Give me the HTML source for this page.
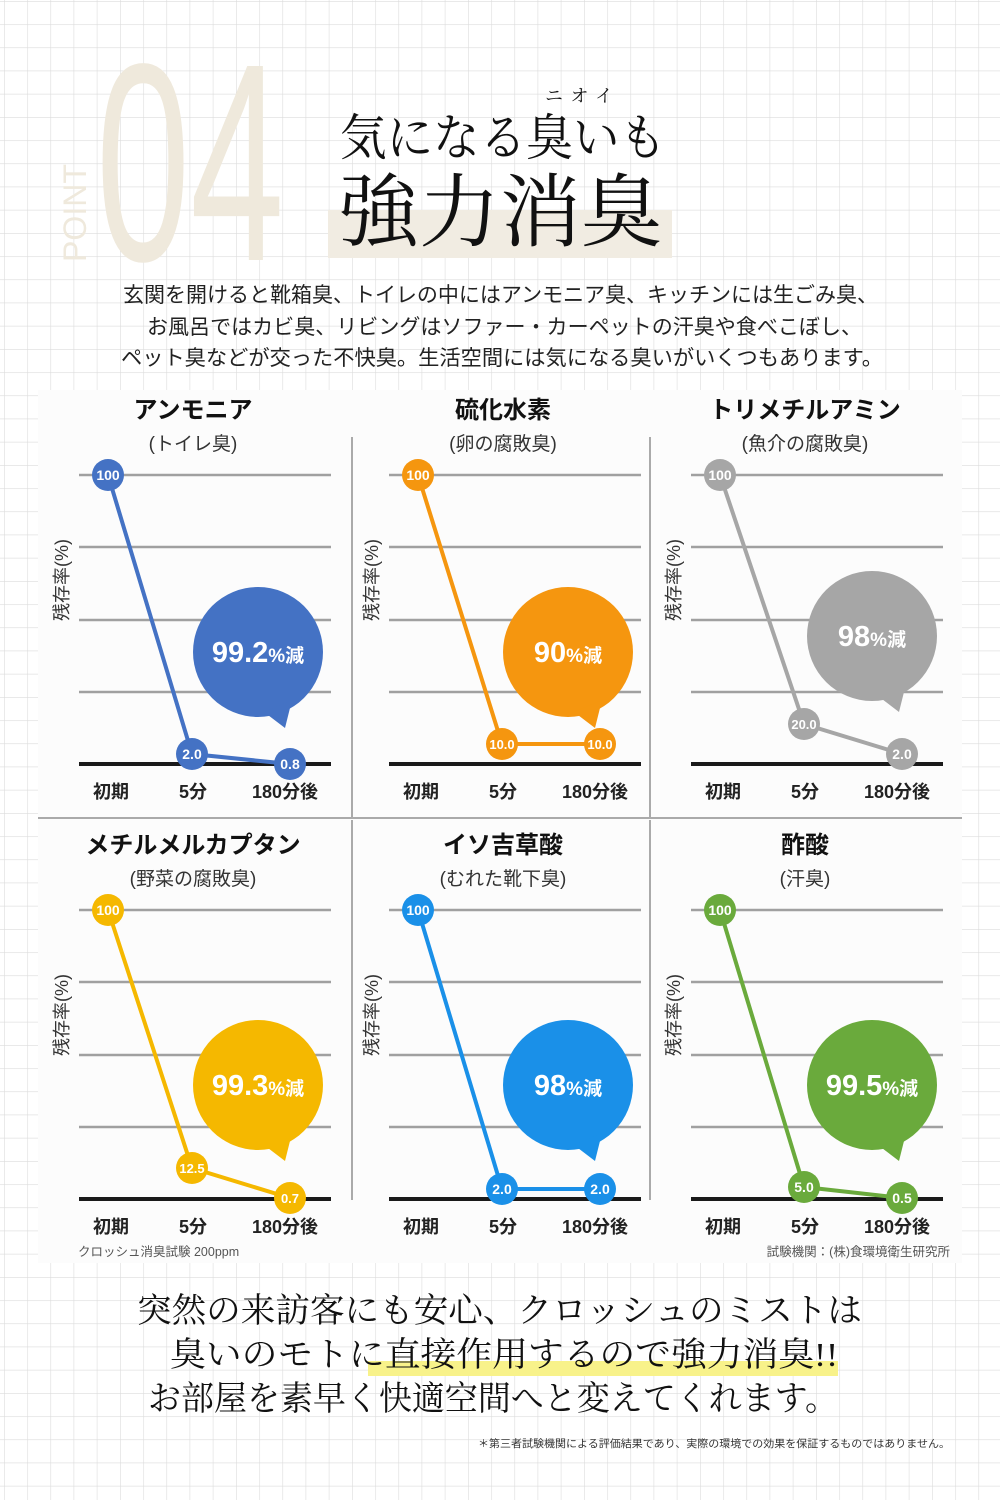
<!DOCTYPE html>
<html><head><meta charset="utf-8"><style>
html,body{margin:0;padding:0;background:#fff}
svg{display:block}
.t{font-family:"Liberation Sans","Noto Sans CJK JP",sans-serif}
.s{font-family:"Liberation Serif","Noto Serif CJK SC",serif}
</style></head><body>
<svg width="1000" height="1500" viewBox="0 0 1000 1500" xmlns="http://www.w3.org/2000/svg" class="t">
<defs>
<pattern id="g" x="4" y="1" width="23.2" height="23.2" patternUnits="userSpaceOnUse">
<path d="M0 0V23.2M0 0H23.2" stroke="#dcdcdc" stroke-width="1.2" fill="none"/>
</pattern>
</defs>
<rect width="1000" height="1500" fill="#fff"/>
<rect width="1000" height="1500" fill="url(#g)"/>

<!-- header -->
<text x="0" y="0" transform="translate(86,262) rotate(-90)" font-size="32" fill="#efe9dc" textLength="98" lengthAdjust="spacingAndGlyphs">POINT</text>
<text x="0" y="0" transform="translate(96,260) scale(0.6,1)" font-size="282" fill="#efe9dc">04</text>
<rect x="328" y="210" width="344" height="48" fill="#f1ece2"/>
<text class="s" x="545" y="102" font-size="18" fill="#111" textLength="68">ニオイ</text>
<text class="s" x="340" y="155" font-size="50" fill="#111" textLength="326" lengthAdjust="spacingAndGlyphs">気になる臭いも</text>
<text class="s" x="338" y="240" font-size="80" fill="#111" textLength="324" lengthAdjust="spacingAndGlyphs">強力消臭</text>
<g font-size="21" fill="#222">
<text x="123" y="302" textLength="755" lengthAdjust="spacingAndGlyphs">玄関を開けると靴箱臭、トイレの中にはアンモニア臭、キッチンには生ごみ臭、</text>
<text x="147" y="334" textLength="715" lengthAdjust="spacingAndGlyphs">お風呂ではカビ臭、リビングはソファー・カーペットの汗臭や食べこぼし、</text>
<text x="121" y="365" textLength="762" lengthAdjust="spacingAndGlyphs">ペット臭などが交った不快臭。生活空間には気になる臭いがいくつもあります。</text>
</g>

<!-- panel -->
<rect x="38" y="390" width="924" height="873" fill="#fcfcfc"/>
<g stroke="#aaa" stroke-width="2">
<line x1="352" y1="437" x2="352" y2="817"/><line x1="650" y1="437" x2="650" y2="817"/>
<line x1="352" y1="820" x2="352" y2="1200"/><line x1="650" y1="820" x2="650" y2="1200"/>
<line x1="38" y1="818" x2="962" y2="818"/>
</g>

<!-- C1 -->
<g>
<g stroke="#a0a0a0" stroke-width="2.5"><line x1="79" y1="475" x2="331" y2="475"/><line x1="79" y1="547" x2="331" y2="547"/><line x1="79" y1="620" x2="331" y2="620"/><line x1="79" y1="692" x2="331" y2="692"/></g>
<line x1="79" y1="764" x2="331" y2="764" stroke="#1a1a1a" stroke-width="4"/>
<text x="193" y="418" font-size="24" font-weight="bold" text-anchor="middle" fill="#111">アンモニア</text>
<text x="193" y="450" font-size="19" text-anchor="middle" fill="#333">(トイレ臭)</text>
<text transform="translate(68,580) rotate(-90)" font-size="18" text-anchor="middle" fill="#333">残存率(%)</text>
<g font-size="18" font-weight="bold" text-anchor="middle" fill="#222"><text x="111" y="798">初期</text><text x="193" y="798">5分</text><text x="285" y="798">180分後</text></g>
<g fill="#4472c4">
<circle cx="258" cy="652" r="65"/><polygon points="264,712 292,700 285,728"/>
<polyline points="108,475 192,754 290,764" fill="none" stroke="#4472c4" stroke-width="4"/>
<circle cx="108" cy="475" r="16"/><circle cx="192" cy="754" r="16"/><circle cx="290" cy="764" r="16"/>
</g>
<g fill="#fff" font-weight="bold" text-anchor="middle"><text x="108" y="480" font-size="14">100</text><text x="192" y="759" font-size="14">2.0</text><text x="290" y="769" font-size="14">0.8</text>
<text x="258" y="662" font-size="29">99.2<tspan font-size="19">%減</tspan></text></g>
</g>

<!-- C2 -->
<g transform="translate(310,0)">
<g stroke="#a0a0a0" stroke-width="2.5"><line x1="79" y1="475" x2="331" y2="475"/><line x1="79" y1="547" x2="331" y2="547"/><line x1="79" y1="620" x2="331" y2="620"/><line x1="79" y1="692" x2="331" y2="692"/></g>
<line x1="79" y1="764" x2="331" y2="764" stroke="#1a1a1a" stroke-width="4"/>
<text x="193" y="418" font-size="24" font-weight="bold" text-anchor="middle" fill="#111">硫化水素</text>
<text x="193" y="450" font-size="19" text-anchor="middle" fill="#333">(卵の腐敗臭)</text>
<text transform="translate(68,580) rotate(-90)" font-size="18" text-anchor="middle" fill="#333">残存率(%)</text>
<g font-size="18" font-weight="bold" text-anchor="middle" fill="#222"><text x="111" y="798">初期</text><text x="193" y="798">5分</text><text x="285" y="798">180分後</text></g>
<g fill="#f5960f">
<circle cx="258" cy="652" r="65"/><polygon points="264,712 292,700 285,728"/>
<polyline points="108,475 192,744 290,744" fill="none" stroke="#f5960f" stroke-width="4"/>
<circle cx="108" cy="475" r="16"/><circle cx="192" cy="744" r="16"/><circle cx="290" cy="744" r="16"/>
</g>
<g fill="#fff" font-weight="bold" text-anchor="middle"><text x="108" y="480" font-size="14">100</text><text x="192" y="749" font-size="13">10.0</text><text x="290" y="749" font-size="13">10.0</text>
<text x="258" y="662" font-size="29">90<tspan font-size="19">%減</tspan></text></g>
</g>

<!-- C3 -->
<g transform="translate(612,0)">
<g stroke="#a0a0a0" stroke-width="2.5"><line x1="79" y1="475" x2="331" y2="475"/><line x1="79" y1="547" x2="331" y2="547"/><line x1="79" y1="620" x2="331" y2="620"/><line x1="79" y1="692" x2="331" y2="692"/></g>
<line x1="79" y1="764" x2="331" y2="764" stroke="#1a1a1a" stroke-width="4"/>
<text x="193" y="418" font-size="24" font-weight="bold" text-anchor="middle" fill="#111">トリメチルアミン</text>
<text x="193" y="450" font-size="19" text-anchor="middle" fill="#333">(魚介の腐敗臭)</text>
<text transform="translate(68,580) rotate(-90)" font-size="18" text-anchor="middle" fill="#333">残存率(%)</text>
<g font-size="18" font-weight="bold" text-anchor="middle" fill="#222"><text x="111" y="798">初期</text><text x="193" y="798">5分</text><text x="285" y="798">180分後</text></g>
<g fill="#a6a6a6">
<circle cx="260" cy="636" r="65"/><polygon points="266,696 294,684 287,712"/>
<polyline points="108,475 192,724 290,754" fill="none" stroke="#a6a6a6" stroke-width="4"/>
<circle cx="108" cy="475" r="16"/><circle cx="192" cy="724" r="16"/><circle cx="290" cy="754" r="16"/>
</g>
<g fill="#fff" font-weight="bold" text-anchor="middle"><text x="108" y="480" font-size="14">100</text><text x="192" y="729" font-size="13">20.0</text><text x="290" y="759" font-size="14">2.0</text>
<text x="260" y="646" font-size="29">98<tspan font-size="19">%減</tspan></text></g>
</g>

<!-- C4 -->
<g transform="translate(0,435)">
<g stroke="#a0a0a0" stroke-width="2.5"><line x1="79" y1="475" x2="331" y2="475"/><line x1="79" y1="547" x2="331" y2="547"/><line x1="79" y1="620" x2="331" y2="620"/><line x1="79" y1="692" x2="331" y2="692"/></g>
<line x1="79" y1="764" x2="331" y2="764" stroke="#1a1a1a" stroke-width="4"/>
<text x="193" y="418" font-size="24" font-weight="bold" text-anchor="middle" fill="#111">メチルメルカプタン</text>
<text x="193" y="450" font-size="19" text-anchor="middle" fill="#333">(野菜の腐敗臭)</text>
<text transform="translate(68,580) rotate(-90)" font-size="18" text-anchor="middle" fill="#333">残存率(%)</text>
<g font-size="18" font-weight="bold" text-anchor="middle" fill="#222"><text x="111" y="798">初期</text><text x="193" y="798">5分</text><text x="285" y="798">180分後</text></g>
<g fill="#f5b800">
<circle cx="258" cy="650" r="65"/><polygon points="264,710 292,698 285,726"/>
<polyline points="108,475 192,733 290,763" fill="none" stroke="#f5b800" stroke-width="4"/>
<circle cx="108" cy="475" r="16"/><circle cx="192" cy="733" r="16"/><circle cx="290" cy="763" r="16"/>
</g>
<g fill="#fff" font-weight="bold" text-anchor="middle"><text x="108" y="480" font-size="14">100</text><text x="192" y="738" font-size="13">12.5</text><text x="290" y="768" font-size="13">0.7</text>
<text x="258" y="660" font-size="29">99.3<tspan font-size="19">%減</tspan></text></g>
</g>

<!-- C5 -->
<g transform="translate(310,435)">
<g stroke="#a0a0a0" stroke-width="2.5"><line x1="79" y1="475" x2="331" y2="475"/><line x1="79" y1="547" x2="331" y2="547"/><line x1="79" y1="620" x2="331" y2="620"/><line x1="79" y1="692" x2="331" y2="692"/></g>
<line x1="79" y1="764" x2="331" y2="764" stroke="#1a1a1a" stroke-width="4"/>
<text x="193" y="418" font-size="24" font-weight="bold" text-anchor="middle" fill="#111">イソ吉草酸</text>
<text x="193" y="450" font-size="19" text-anchor="middle" fill="#333">(むれた靴下臭)</text>
<text transform="translate(68,580) rotate(-90)" font-size="18" text-anchor="middle" fill="#333">残存率(%)</text>
<g font-size="18" font-weight="bold" text-anchor="middle" fill="#222"><text x="111" y="798">初期</text><text x="193" y="798">5分</text><text x="285" y="798">180分後</text></g>
<g fill="#1a90e8">
<circle cx="258" cy="650" r="65"/><polygon points="264,710 292,698 285,726"/>
<polyline points="108,475 192,754 290,754" fill="none" stroke="#1a90e8" stroke-width="4"/>
<circle cx="108" cy="475" r="16"/><circle cx="192" cy="754" r="16"/><circle cx="290" cy="754" r="16"/>
</g>
<g fill="#fff" font-weight="bold" text-anchor="middle"><text x="108" y="480" font-size="14">100</text><text x="192" y="759" font-size="14">2.0</text><text x="290" y="759" font-size="14">2.0</text>
<text x="258" y="660" font-size="29">98<tspan font-size="19">%減</tspan></text></g>
</g>

<!-- C6 -->
<g transform="translate(612,435)">
<g stroke="#a0a0a0" stroke-width="2.5"><line x1="79" y1="475" x2="331" y2="475"/><line x1="79" y1="547" x2="331" y2="547"/><line x1="79" y1="620" x2="331" y2="620"/><line x1="79" y1="692" x2="331" y2="692"/></g>
<line x1="79" y1="764" x2="331" y2="764" stroke="#1a1a1a" stroke-width="4"/>
<text x="193" y="418" font-size="24" font-weight="bold" text-anchor="middle" fill="#111">酢酸</text>
<text x="193" y="450" font-size="19" text-anchor="middle" fill="#333">(汗臭)</text>
<text transform="translate(68,580) rotate(-90)" font-size="18" text-anchor="middle" fill="#333">残存率(%)</text>
<g font-size="18" font-weight="bold" text-anchor="middle" fill="#222"><text x="111" y="798">初期</text><text x="193" y="798">5分</text><text x="285" y="798">180分後</text></g>
<g fill="#6aaa3c">
<circle cx="260" cy="650" r="65"/><polygon points="266,710 294,698 287,726"/>
<polyline points="108,475 192,752 290,763" fill="none" stroke="#6aaa3c" stroke-width="4"/>
<circle cx="108" cy="475" r="16"/><circle cx="192" cy="752" r="16"/><circle cx="290" cy="763" r="16"/>
</g>
<g fill="#fff" font-weight="bold" text-anchor="middle"><text x="108" y="480" font-size="14">100</text><text x="192" y="757" font-size="14">5.0</text><text x="290" y="768" font-size="14">0.5</text>
<text x="260" y="660" font-size="29">99.5<tspan font-size="19">%減</tspan></text></g>
</g>

<text x="78" y="1256" font-size="12.5" fill="#555">クロッシュ消臭試験 200ppm</text>
<text x="950" y="1256" font-size="12.5" fill="#555" text-anchor="end">試験機関：(株)食環境衛生研究所</text>

<!-- bottom -->
<rect x="368" y="1361" width="470" height="15" fill="#f8f28a"/>
<g class="s" font-size="34" fill="#111">
<text x="137" y="1322" textLength="725" lengthAdjust="spacingAndGlyphs">突然の来訪客にも安心、クロッシュのミストは</text>
<text x="170" y="1366" textLength="668" lengthAdjust="spacingAndGlyphs">臭いのモトに直接作用するので強力消臭!!</text>
<text x="148" y="1410" textLength="690" lengthAdjust="spacingAndGlyphs">お部屋を素早く快適空間へと変えてくれます。</text>
</g>
<text x="950" y="1447" font-size="10.5" fill="#333" text-anchor="end" textLength="472" lengthAdjust="spacingAndGlyphs">＊第三者試験機関による評価結果であり、実際の環境での効果を保証するものではありません。</text>
</svg>
</body></html>
